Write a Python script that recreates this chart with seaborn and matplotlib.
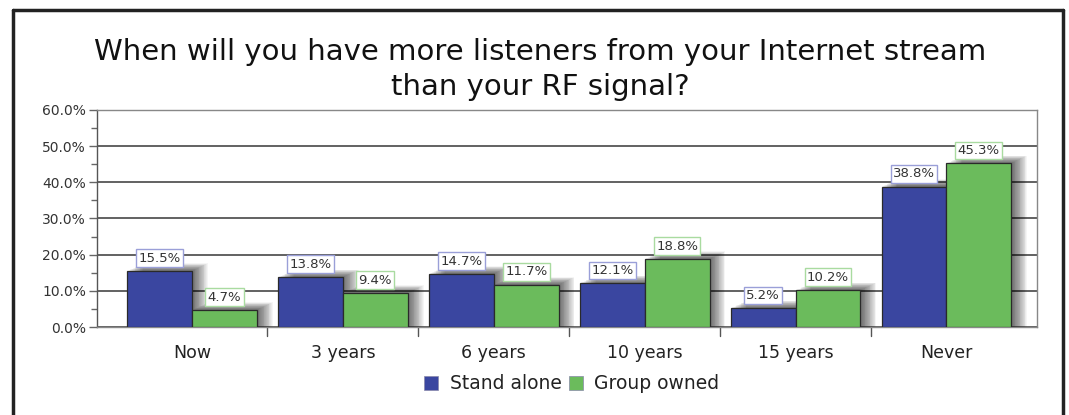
import matplotlib
matplotlib.use("Agg")
import matplotlib.pyplot as plt
import seaborn as sns
import pandas as pd
from matplotlib.patches import Rectangle
from matplotlib.lines import Line2D
from matplotlib.ticker import MultipleLocator, FuncFormatter

# data
categories = ["Now", "3 years", "6 years", "10 years", "15 years", "Never"]
stand_alone = [15.5, 13.8, 14.7, 12.1, 5.2, 38.8]
group_owned = [4.7, 9.4, 11.7, 18.8, 10.2, 45.3]
series_names = ["Stand alone", "Group owned"]

blue = "#3a46a0"
green = "#6bbb5c"

df = pd.DataFrame({
    "period": categories * 2,
    "value": stand_alone + group_owned,
    "series": [series_names[0]] * len(categories) + [series_names[1]] * len(categories),
})

sns.set_theme(style="white")
plt.rcParams['font.family'] = ['DejaVu Sans']

fig = plt.figure(figsize=(10.69, 4.15), dpi=100)
ax = fig.add_axes([0.0907, 0.212, 0.8793, 0.523])

sns.barplot(data=df, x="period", y="value", hue="series", order=categories,
            hue_order=series_names, palette=[blue, green], width=0.86,
            edgecolor="#2a2a2a", linewidth=0.9, saturation=1, ax=ax, zorder=3)

# soft drop shadow behind each bar
for p in list(ax.patches):
    if p.get_height() <= 0:
        continue
    x0, w, h = p.get_x(), p.get_width(), p.get_height()
    for i in range(1, 20):
        dx = 0.0055 * i
        ax.add_patch(Rectangle((x0 + dx, 0), w, h + 0.11 * i, facecolor="black",
                               alpha=0.04, edgecolor="none", zorder=2))

# value labels in little boxes
edge_cols = {series_names[0]: "#9a9fd8", series_names[1]: "#a9dba0"}
for cont, name in zip(ax.containers, series_names):
    for bar in cont:
        v = bar.get_height()
        ax.annotate(f"{v:.1f}%", (bar.get_x() + bar.get_width() / 2, v),
                    xytext=(0, 4.5), textcoords="offset points", ha="center", va="bottom",
                    fontsize=9.5, color="#333333", zorder=6,
                    bbox=dict(boxstyle="square,pad=0.18", fc="white", ec=edge_cols[name], lw=1))

ax.set_xlim(-0.63, 5.60)
ax.set_ylim(0, 60)
ax.yaxis.set_major_locator(MultipleLocator(10))
ax.yaxis.set_minor_locator(MultipleLocator(5))
ax.yaxis.set_major_formatter(FuncFormatter(lambda v, _: f"{v:.1f}%"))
ax.grid(axis="y", which="major", color="#555555", linewidth=1.3, zorder=0)
ax.set_axisbelow(True)
ax.tick_params(axis="y", which="major", left=True, length=6, width=1, color="#666666",
               labelsize=10, labelcolor="#333333", pad=2)
ax.tick_params(axis="y", which="minor", left=True, length=4, width=1, color="#666666")
ax.tick_params(axis="x", bottom=False, labelsize=12.5, labelcolor="#222222", pad=6)
ax.set_xlabel("")
ax.set_ylabel("")
for s in ax.spines.values():
    s.set_color("#888888")
    s.set_linewidth(1)
ax.spines["left"].set_color("#555555")

# group separator ticks below the axis
for b in range(1, len(categories)):
    ax.plot([b - 0.5, b - 0.5], [0, -2.4], color="#555555", lw=1, clip_on=False, zorder=1)

ax.legend_.remove()
handles = [Rectangle((0, 0), 1, 1, facecolor=c, edgecolor="#8888aa", lw=0.5) for c in (blue, green)]
fig.legend(handles, series_names, loc="center", bbox_to_anchor=(0.535, 0.075), ncol=2,
           frameon=False, fontsize=13.5, handlelength=0.75, handleheight=0.75,
           handletextpad=0.6, columnspacing=0.4, labelcolor="#222222")

fig.text(0.505, 0.832, "When will you have more listeners from your Internet stream\nthan your RF signal?",
         ha="center", va="center", fontsize=21, color="#111111", linespacing=1.3)

# outer frame (open at the bottom)
for xs, ys in [([13 / 1069, 13 / 1069], [0, 1 - 10 / 415]),
               ([13 / 1069, 1063 / 1069], [1 - 10 / 415, 1 - 10 / 415]),
               ([1063 / 1069, 1063 / 1069], [0, 1 - 10 / 415])]:
    fig.add_artist(Line2D(xs, ys, color="#222222", lw=2.5))

fig.savefig("out.png", dpi=100)
